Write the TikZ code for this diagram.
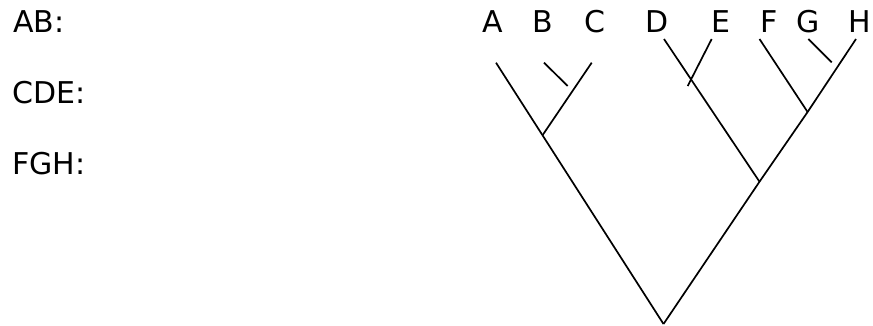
\documentclass[tikz,border=0pt]{standalone}
\usepackage{fontspec}
\setmainfont{DejaVu Sans}
\begin{document}
\begin{tikzpicture}[x=1pt,y=-1pt,
  lbl/.style={inner sep=0pt,font=\fontsize{30}{36}\selectfont},
  branch/.style={line width=1.7pt,line cap=butt}]
\useasboundingbox (0,0) rectangle (873,326);
% side labels
\node[lbl,anchor=base west] (ab)  at (12.8,32.3)  {AB:};
\node[lbl,anchor=base west] (cde) at (12.3,103.3) {CDE:};
\node[lbl,anchor=base west] (fgh) at (12.3,174.3) {FGH:};
% leaf labels
\node[lbl,anchor=base] (lA) at (493.2,32.3) {A};
\node[lbl,anchor=base] (lB) at (542.8,32.3) {B};
\node[lbl,anchor=base] (lC) at (594.5,32.3) {C};
\node[lbl,anchor=base] (lD) at (657.0,32.3) {D};
\node[lbl,anchor=base] (lE) at (720.6,32.3) {E};
\node[lbl,anchor=base] (lF) at (769.5,32.3) {F};
\node[lbl,anchor=base] (lG) at (808.0,32.3) {G};
\node[lbl,anchor=base] (lH) at (860.0,32.3) {H};
% tree coordinates
\coordinate (root) at (663.5,324);
\coordinate (tA) at (496,62.7);
\coordinate (tB) at (544,62.7);
\coordinate (eB) at (567.7,86);
\coordinate (tC) at (591.7,62.7);
\coordinate (jAC) at (542.7,135);
\coordinate (tD) at (664,39);
\coordinate (tE) at (711.7,39);
\coordinate (eE) at (687.7,86);
\coordinate (tF) at (759.5,39);
\coordinate (jFH) at (807.6,112);
\coordinate (tG) at (808.3,39);
\coordinate (eG) at (831.7,62.3);
\coordinate (tH) at (856,39);
\coordinate (jDH) at (759.5,181.7);
% branches
\draw[branch] (tA) -- (root);
\draw[branch] (tC) -- (jAC);
\draw[branch] (tB) -- (eB);
\draw[branch] (tH) -- (jFH) -- (jDH) -- (root);
\draw[branch] (tD) -- (jDH);
\draw[branch] (tE) -- (eE);
\draw[branch] (tF) -- (jFH);
\draw[branch] (tG) -- (eG);
\end{tikzpicture}
\end{document}
